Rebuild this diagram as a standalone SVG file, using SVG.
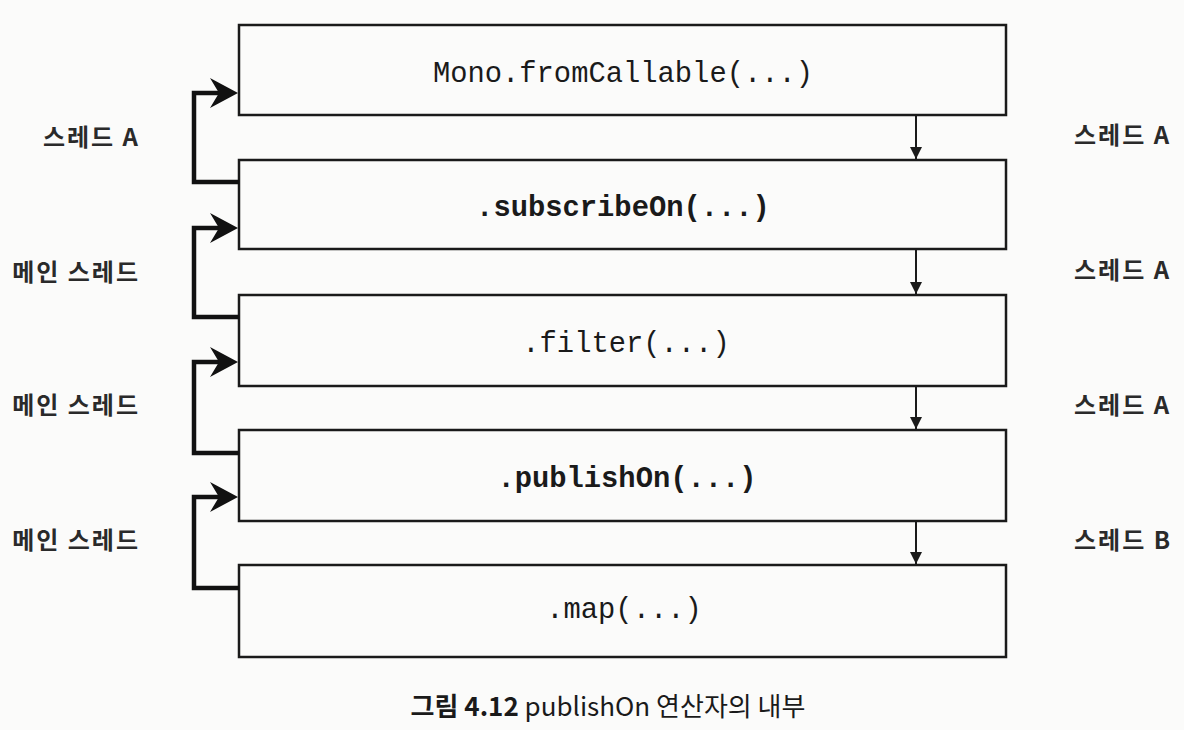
<svg xmlns="http://www.w3.org/2000/svg" width="1184" height="730" viewBox="0 0 1184 730">
  <style>
    .box { fill: #fbfbfa; stroke: #1a1a1a; stroke-width: 2.5; }
    .code { font-family: "Liberation Mono", "Courier New", monospace; font-size: 28.8px; fill: #1a1a1a; text-anchor: middle; }
    .b { font-weight: bold; }
    .lbl { font-family: "Noto Sans CJK KR", "Noto Sans", sans-serif; font-size: 24px; font-weight: bold; fill: #2a2a2a; letter-spacing: 2px; }
    .back { fill: none; stroke: #111; stroke-width: 4.5; stroke-linejoin: miter; }
    .down { fill: none; stroke: #1a1a1a; stroke-width: 2; }
    .cap { font-family: "Noto Sans CJK KR", "Noto Sans", sans-serif; font-size: 26px; fill: #1a1a1a; text-anchor: middle; }
  </style>
  <defs>
    <marker id="bigArrow" markerUnits="userSpaceOnUse" viewBox="0 0 28 30" markerWidth="28" markerHeight="30" refX="18" refY="15" orient="auto">
      <path d="M0,0 L28,15 L0,30 L9,15 Z" fill="#111"/>
    </marker>
    <marker id="smallArrow" markerUnits="userSpaceOnUse" viewBox="0 0 12 12" markerWidth="12" markerHeight="12" refX="12" refY="6" orient="auto">
      <path d="M0,0 L12,6 L0,12 Z" fill="#1a1a1a"/>
    </marker>
  </defs>

  <rect x="0" y="0" width="1184" height="730" fill="#fbfbfa"/>

  <g id="node-fromCallable">
    <rect class="box" x="239" y="25" width="767" height="90"/>
    <text class="code" x="623" y="82">Mono.fromCallable(...)</text>
  </g>
  <g id="node-subscribeOn">
    <rect class="box" x="239" y="160" width="767" height="89"/>
    <text class="code b" x="623" y="216">.subscribeOn(...)</text>
  </g>
  <g id="node-filter">
    <rect class="box" x="239" y="295" width="767" height="91"/>
    <text class="code" x="626" y="352">.filter(...)</text>
  </g>
  <g id="node-publishOn">
    <rect class="box" x="239" y="430" width="767" height="91"/>
    <text class="code b" x="627" y="487">.publishOn(...)</text>
  </g>
  <g id="node-map">
    <rect class="box" x="239" y="565" width="767" height="92"/>
    <text class="code" x="624" y="618">.map(...)</text>
  </g>

  <g id="connectors">
    <path class="back" d="M239,182 L194,182 L194,93 L228,93" marker-end="url(#bigArrow)"/>
    <path class="back" d="M239,317 L194,317 L194,228 L228,228" marker-end="url(#bigArrow)"/>
    <path class="back" d="M239,453 L194,453 L194,362 L228,362" marker-end="url(#bigArrow)"/>
    <path class="back" d="M239,588 L194,588 L194,497 L228,497" marker-end="url(#bigArrow)"/>

    <path class="down" d="M916,115 L916,159" marker-end="url(#smallArrow)"/>
    <path class="down" d="M916,249 L916,294" marker-end="url(#smallArrow)"/>
    <path class="down" d="M916,386 L916,429" marker-end="url(#smallArrow)"/>
    <path class="down" d="M916,521 L916,564" marker-end="url(#smallArrow)"/>
  </g>

  <g id="labels-left">
    <text class="lbl" x="140" y="146" text-anchor="end">스레드 A</text>
    <text class="lbl" x="140" y="281" text-anchor="end">메인 스레드</text>
    <text class="lbl" x="140" y="414" text-anchor="end">메인 스레드</text>
    <text class="lbl" x="140" y="549" text-anchor="end">메인 스레드</text>
  </g>
  <g id="labels-right">
    <text class="lbl" x="1074" y="144">스레드 A</text>
    <text class="lbl" x="1074" y="279">스레드 A</text>
    <text class="lbl" x="1074" y="414">스레드 A</text>
    <text class="lbl" x="1074" y="549">스레드 B</text>
  </g>

  <g id="caption">
    <text class="cap" x="608" y="716"><tspan font-weight="bold">그림 4.12</tspan> publishOn 연산자의 내부</text>
  </g>
</svg>
